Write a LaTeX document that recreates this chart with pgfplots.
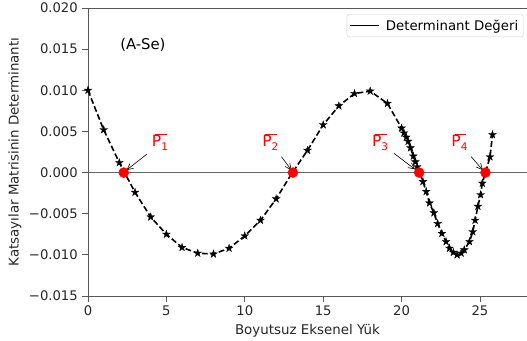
\documentclass[border=0pt]{standalone}
\usepackage{pgfplots}
\pgfplotsset{compat=1.18}
\usetikzlibrary{arrows.meta}
\usepackage{fontspec}
\setmainfont{DejaVu Sans}
\setsansfont{DejaVu Sans}

\pgfdeclareplotmark{fstar}{%
  \pgfpathmoveto{\pgfpointpolar{90}{\pgfplotmarksize}}%
  \pgfpathlineto{\pgfpointpolar{126}{0.382\pgfplotmarksize}}%
  \pgfpathlineto{\pgfpointpolar{162}{\pgfplotmarksize}}%
  \pgfpathlineto{\pgfpointpolar{198}{0.382\pgfplotmarksize}}%
  \pgfpathlineto{\pgfpointpolar{234}{\pgfplotmarksize}}%
  \pgfpathlineto{\pgfpointpolar{270}{0.382\pgfplotmarksize}}%
  \pgfpathlineto{\pgfpointpolar{306}{\pgfplotmarksize}}%
  \pgfpathlineto{\pgfpointpolar{342}{0.382\pgfplotmarksize}}%
  \pgfpathlineto{\pgfpointpolar{18}{\pgfplotmarksize}}%
  \pgfpathlineto{\pgfpointpolar{54}{0.382\pgfplotmarksize}}%
  \pgfpathclose
  \pgfusepathqfillstroke
}

\newcommand{\Pbar}[1]{P\kern-0.40em\rlap{\rule[0.76em]{0.75em}{0.07em}}\kern0.40em\raisebox{-0.22em}{\fontsize{10.5}{12}\selectfont #1}}

\pgfplotstableread{
x y
0 0.0100
1 0.0052
2 0.0012
3 -0.0024
4 -0.0054
5 -0.0075
6 -0.0091
7 -0.0098
8 -0.0099
9 -0.0092
10 -0.0077
11 -0.0058
12 -0.0032
13 -0.0001
14 0.0027
15 0.0058
16 0.0081
17 0.0096
18 0.0099
19.1 0.0084
20.0 0.0054
20.15 0.0048
20.3 0.0043
20.42 0.0038
20.57 0.0030
20.75 0.0020
20.88 0.0013
21.0 0.0007
21.36 -0.0011
21.57 -0.0023
21.78 -0.0037
22.06 -0.0049
22.3 -0.0062
22.57 -0.0074
22.84 -0.0084
23.06 -0.0092
23.3 -0.0097
23.54 -0.0100
23.8 -0.0098
24.0 -0.0094
24.33 -0.0084
24.54 -0.0072
24.69 -0.0058
24.87 -0.0041
25.04 -0.0027
25.15 -0.0013
25.64 0.0019
25.8 0.0046
}\detdata

\pgfplotstableread{
x y
2.28 0
13.07 0
21.12 0
25.35 0
}\roots

\begin{document}
\begin{tikzpicture}
\begin{axis}[
  name=ax,
  scale only axis,
  width=439pt, height=288pt,
  xmin=0, xmax=28,
  ymin=-0.015, ymax=0.020,
  axis x line*=box,
  axis y line*=left,
  axis line style={black!65, line width=0.9pt},
  tick style={black!65, line width=0.9pt},
  tick align=outside,
  major tick length=6pt,
  xtick pos=left, ytick pos=left,
  xtick={0,5,10,15,20,25},
  xticklabels={0,5,10,15,20,25},
  ytick={-0.015,-0.010,-0.005,0,0.005,0.010,0.015,0.020},
  yticklabels={−0.015,−0.010,−0.005,0.000,0.005,0.010,0.015,0.020},
  scaled y ticks=false,
  ticklabel style={font=\fontsize{13.2}{15}\selectfont, text=black!85},
  yticklabel style={inner sep=0pt, xshift=-4pt},
  xticklabel style={inner sep=0pt, yshift=-4pt},
  xlabel={Boyutsuz Eksenel Yük},
  ylabel={Katsayılar Matrisinin Determinantı},
  x label style={at={(axis description cs:0.5,-0.132)}, anchor=base, font=\fontsize{13.4}{15}\selectfont, text=black!85, inner sep=0pt},
  y label style={at={(axis description cs:-0.158,0.5)}, anchor=base, rotate=0, font=\fontsize{13.4}{15}\selectfont, text=black!85, inner sep=0pt},
  legend style={at={(0.992,0.978)}, anchor=north east, draw=black!18, rounded corners=2.5pt, fill=white,
    font=\fontsize{13.3}{15}\selectfont, inner xsep=3pt, inner ysep=3.2pt},
  legend cell align=left,
  legend image code/.code={\draw[#1] (0pt,0pt) -- (29pt,0pt); \path (33pt,0pt);},
  clip=false,
]
\addplot[forget plot, color=black!60, line width=1.4pt] coordinates {(0,0) (28,0)};
\addplot[forget plot, black, line width=1.6pt, dash pattern=on 5.8pt off 2.8pt,
  mark=fstar, mark size=4.1pt, mark options={solid, fill=black, line width=0.3pt}]
  table[x=x, y=y] {\detdata};
\addplot[forget plot, only marks, mark=*, mark size=5pt, color=red, fill=red] table[x=x,y=y] {\roots};
\addlegendimage{black, solid, line width=1pt}
\addlegendentry{Determinant Değeri}

\node[font=\fontsize{14.8}{17}\selectfont] at (axis cs:3.5,0.0155) {(A-Se)};

\node[font=\fontsize{15.5}{18}\selectfont, text=red] at (axis cs:4.59,0.0037) {\Pbar{1}};
\node[font=\fontsize{15.5}{18}\selectfont, text=red] at (axis cs:11.63,0.0037) {\Pbar{2}};
\node[font=\fontsize{15.5}{18}\selectfont, text=red] at (axis cs:18.63,0.0037) {\Pbar{3}};
\node[font=\fontsize{15.5}{18}\selectfont, text=red] at (axis cs:23.69,0.0037) {\Pbar{4}};

\draw[-{Straight Barb[length=6pt,width=6pt]}, line width=0.6pt] (axis cs:3.74,0.00222) -- (axis cs:2.46,0.0003);
\draw[-{Straight Barb[length=6pt,width=6pt]}, line width=0.6pt] (axis cs:12.34,0.00193) -- (axis cs:12.97,0.0003);
\draw[-{Straight Barb[length=6pt,width=6pt]}, line width=0.6pt] (axis cs:19.51,0.00235) -- (axis cs:20.85,0.0004);
\draw[-{Straight Barb[length=6pt,width=6pt]}, line width=0.6pt] (axis cs:24.44,0.00193) -- (axis cs:25.18,0.0003);
\end{axis}
\pgfresetboundingbox
\path[use as bounding box] ([shift={(-88pt,-45pt)}]ax.south west) rectangle ([shift={(0pt,8pt)}]ax.north east);
\end{tikzpicture}
\end{document}
